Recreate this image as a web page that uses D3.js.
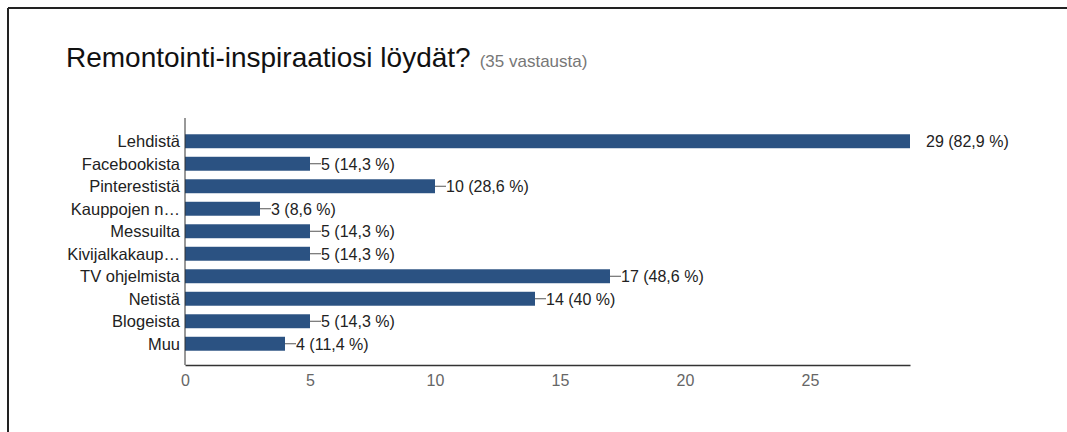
<!DOCTYPE html>
<html><head><meta charset="utf-8">
<script src="https://cdnjs.cloudflare.com/ajax/libs/d3/7.8.5/d3.min.js"></script>
<style>html,body{margin:0;padding:0;background:#fff;}svg{display:block;}</style>
</head><body>
<svg id="c" width="1067" height="432"></svg>
<script>
const categories = ["Lehdistä","Facebookista","Pinterestistä","Kauppojen n…","Messuilta","Kivijalkakaup…","TV ohjelmista","Netistä","Blogeista","Muu"];
const values = [29,5,10,3,5,5,17,14,5,4];
const percentLabels = ["82,9 %","14,3 %","28,6 %","8,6 %","14,3 %","14,3 %","48,6 %","40 %","14,3 %","11,4 %"];
const tickValues = [0,5,10,15,20,25];
const title = "Remontointi-inspiraatiosi löydät?";
const subtitle = "(35 vastausta)";

const svg = d3.select("#c");
const font = "'Liberation Sans', Arial, Helvetica, sans-serif";

// frame
svg.append("line").attr("x1",8).attr("y1",8).attr("x2",1067).attr("y2",8).attr("stroke","#222").attr("stroke-width",2);
svg.append("line").attr("x1",8).attr("y1",8).attr("x2",8).attr("y2",432).attr("stroke","#222").attr("stroke-width",2);

// title
const t = svg.append("text").attr("x",66).attr("y",67).attr("font-family",font).attr("fill","#111");
t.append("tspan").attr("font-size",28).text(title);
t.append("tspan").attr("font-size",17).attr("fill","#777").attr("dx",9).text(subtitle);

const x = d3.scaleLinear().domain([0,29]).range([185,910]);
const y = d3.scaleBand().domain(categories).range([130,355]).paddingInner(0.38).paddingOuter(0.19);

const data = categories.map((c,i)=>({c, v:values[i], p:percentLabels[i]}));

// bars
svg.selectAll("rect.bar").data(data).join("rect").attr("class","bar")
  .attr("x",x(0)).attr("y",d=>y(d.c)).attr("width",d=>x(d.v)-x(0)).attr("height",y.bandwidth())
  .attr("fill","#2b5282");

// category labels
svg.selectAll("text.cat").data(data).join("text").attr("class","cat")
  .attr("x",180).attr("y",d=>y(d.c)+y.bandwidth()/2).attr("dy","0.36em")
  .attr("text-anchor","end").attr("font-family",font).attr("font-size",16.5).attr("fill","#222")
  .text(d=>d.c);

// value labels with leader lines
const maxV = d3.max(values);
data.forEach(d=>{
  const cy = y(d.c)+y.bandwidth()/2;
  if (d.v === maxV) {
    svg.append("text").attr("x",x(d.v)+16).attr("y",cy).attr("dy","0.36em")
      .attr("font-family",font).attr("font-size",16).attr("fill","#222").text(`${d.v} (${d.p})`);
  } else {
    svg.append("line").attr("x1",x(d.v)).attr("x2",x(d.v)+11).attr("y1",cy).attr("y2",cy)
      .attr("stroke","#555").attr("stroke-width",1);
    svg.append("text").attr("x",x(d.v)+11).attr("y",cy).attr("dy","0.36em")
      .attr("font-family",font).attr("font-size",16).attr("fill","#222").text(`${d.v} (${d.p})`);
  }
});

// axes
svg.append("line").attr("x1",x(0)).attr("x2",x(0)).attr("y1",118).attr("y2",365).attr("stroke","#333").attr("stroke-width",1);
const xAxis = d3.axisBottom(x).tickValues(tickValues).tickSize(0).tickPadding(10);
const gx = svg.append("g").attr("transform","translate(0,365)").call(xAxis);
gx.select(".domain").attr("stroke","#333").attr("stroke-width",1.5);
gx.selectAll("text").attr("font-family",font).attr("font-size",16).attr("fill","#666");
</script>
</body></html>
